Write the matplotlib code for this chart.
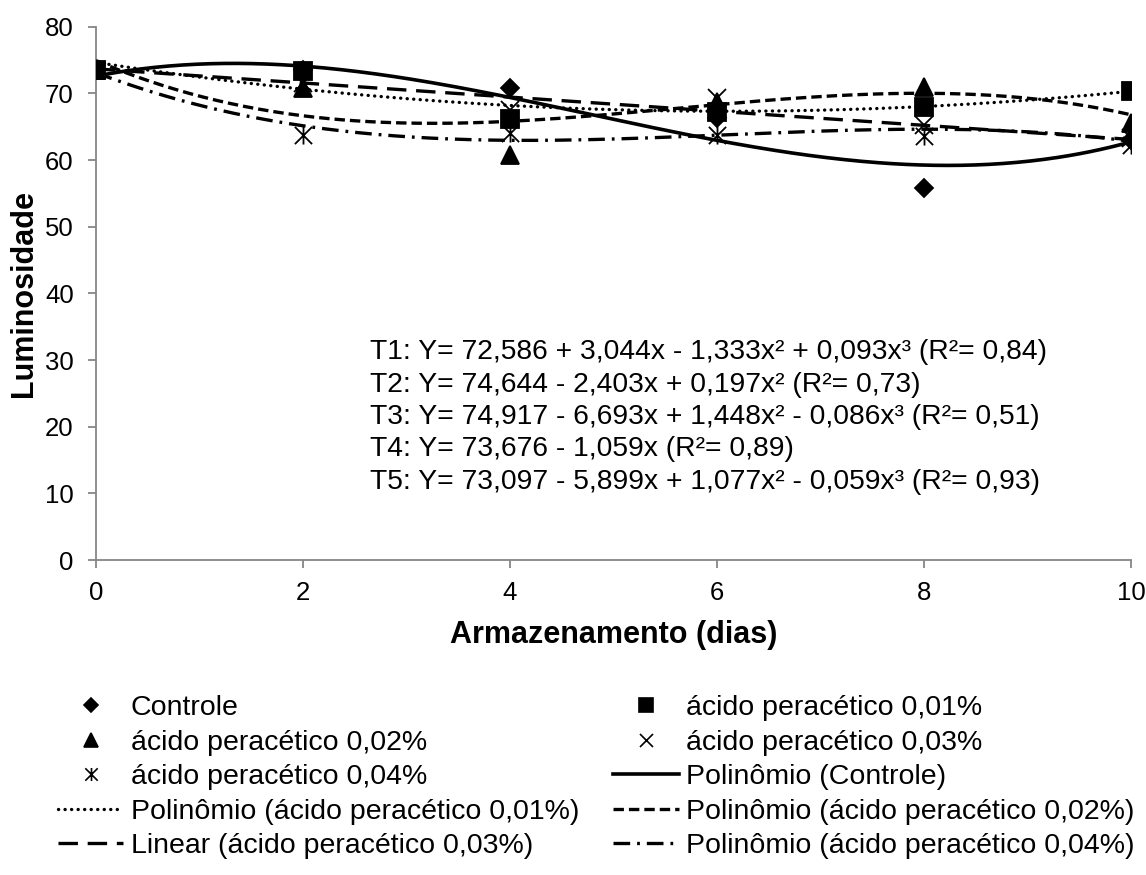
import matplotlib
matplotlib.use("Agg")
import matplotlib.pyplot as plt
import numpy as np
from matplotlib.path import Path
from matplotlib.lines import Line2D

plt.rcParams['font.family'] = ['Liberation Sans', 'DejaVu Sans']
plt.rcParams['lines.scale_dashes'] = False

# Storage days and luminosity readings per treatment
dias = [0, 2, 4, 6, 8, 10]
controle = [73.5, 73.5, 70.8, 66.3, 55.8, 63.0]
ap_001 = [73.5, 73.3, 66.1, 67.2, 68.0, 70.3]
ap_002 = [73.5, 70.8, 60.8, 68.7, 71.0, 65.5]
ap_003 = [73.5, 71.5, 67.5, 69.3, 65.2, 63.3]
ap_004 = [73.5, 63.7, 64.0, 63.8, 63.6, 62.3]

# Trendline coefficients (constant, x, x², x³) as given in the equations
coef_t1 = [72.586, 3.044, -1.333, 0.093]
coef_t2 = [74.644, -2.403, 0.197]
coef_t3 = [74.917, -6.693, 1.448, -0.086]
coef_t4 = [73.676, -1.059]
coef_t5 = [73.097, -5.899, 1.077, -0.059]

equacoes = [
    "T1: Y= 72,586 + 3,044x - 1,333x² + 0,093x³ (R²= 0,84)",
    "T2: Y= 74,644 - 2,403x + 0,197x² (R²= 0,73)",
    "T3: Y= 74,917 - 6,693x + 1,448x² - 0,086x³ (R²= 0,51)",
    "T4: Y= 73,676 - 1,059x (R²= 0,89)",
    "T5: Y= 73,097 - 5,899x + 1,077x² - 0,059x³ (R²= 0,93)",
]

rotulos_series = ["Controle", "ácido peracético 0,01%", "ácido peracético 0,02%",
                  "ácido peracético 0,03%", "ácido peracético 0,04%"]
rotulos_tend = ["Polinômio (Controle)", "Polinômio (ácido peracético 0,01%)",
                "Polinômio (ácido peracético 0,02%)", "Linear (ácido peracético 0,03%)",
                "Polinômio (ácido peracético 0,04%)"]

W, H = 1146, 875
fig = plt.figure(figsize=(W / 100, H / 100), dpi=100)
x0, x1, ytop, ybot = 96, 1131, 26.7, 560
ax = fig.add_axes([x0 / W, 1 - ybot / H, (x1 - x0) / W, (ybot - ytop) / H])

# star marker: an X crossed by a vertical stroke
star = Path([(-1, -1), (1, 1), (-1, 1), (1, -1), (0, -1.05), (0, 1.05)],
            [Path.MOVETO, Path.LINETO, Path.MOVETO, Path.LINETO, Path.MOVETO, Path.LINETO])

gray = '#868686'
series = [controle, ap_001, ap_002, ap_003, ap_004]
markers = ['D', 's', '^', 'x', star]
msizes = [9.5, 13.5, 13.5, 13, 13]

for vals, mk, ms in zip(series, markers, msizes):
    ax.plot(dias, vals, linestyle='none', marker=mk, markersize=ms, color='black',
            markeredgewidth=1.3, zorder=3)

xs = np.linspace(0, 10, 300)
styles = [
    dict(linestyle='-', linewidth=2.6),
    dict(linestyle=(0, (0.1, 4.6)), linewidth=2.4, dash_capstyle='round'),
    dict(linestyle=(0, (7.5, 3.6)), linewidth=2.4),
    dict(linestyle=(0, (14, 7)), linewidth=2.4),
    dict(linestyle=(0, (12, 5, 2, 5)), linewidth=2.4),
]
for coef, st in zip([coef_t1, coef_t2, coef_t3, coef_t4, coef_t5], styles):
    ys = np.polynomial.polynomial.polyval(xs, coef)
    ax.plot(xs, ys, color='black', zorder=4, **st)

ax.set_xlim(0, 10)
ax.set_ylim(0, 80)
ax.set_xticks(range(0, 11, 2))
ax.set_yticks(range(0, 81, 10))
for s in ['top', 'right']:
    ax.spines[s].set_visible(False)
for s in ['left', 'bottom']:
    ax.spines[s].set_color(gray)
    ax.spines[s].set_linewidth(1.3)
ax.tick_params(axis='both', colors=gray, labelcolor='black', labelsize=18.5,
               width=1.3, length=6, direction='out')
ax.tick_params(axis='y', pad=10)
ax.tick_params(axis='x', pad=9)
ax.set_xlabel("Armazenamento (dias)", fontsize=22, fontweight='bold', labelpad=11)
ax.set_ylabel("Luminosidade", fontsize=22, fontweight='bold', labelpad=4)

for i, eq in enumerate(equacoes):
    fig.text(370 / W, 1 - (352 + 32.5 * i) / H, eq, fontsize=20.3, va='center', ha='left')

# legend entries, ordered so the two columns read row by row
mk_handles = [Line2D([], [], linestyle='none', marker=mk, markersize=ms * 0.72,
                     color='black', markeredgewidth=1.2)
              for mk, ms in zip(markers, msizes)]
ln_handles = [Line2D([], [], color='black', **st) for st in styles]
entries = list(zip(mk_handles + ln_handles, rotulos_series + rotulos_tend))
left = entries[0::2]
right = entries[1::2]
ordered = left + right
fig.legend([h for h, _ in ordered], [l for _, l in ordered], ncol=2,
           loc='upper left', bbox_to_anchor=(58 / W, 1 - 695 / H),
           frameon=False, fontsize=20.5, handlelength=2.3, handletextpad=0.25,
           columnspacing=1.2, labelspacing=0.3, borderpad=0, borderaxespad=0)

fig.savefig("out.png", dpi=100)
